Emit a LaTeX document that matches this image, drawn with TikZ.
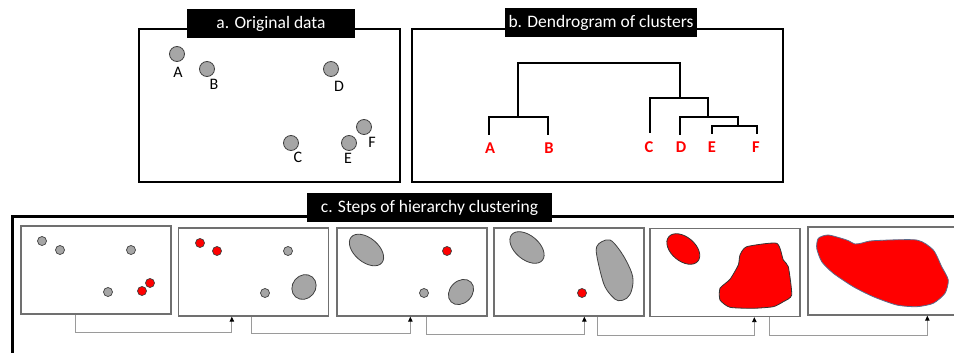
\documentclass[tikz,border=0pt]{standalone}
\usepackage{fontspec}
\setmainfont{Carlito}
\usetikzlibrary{arrows.meta,calc}
\definecolor{dotgray}{HTML}{A6A6A6}
\definecolor{rimgray}{HTML}{404040}
\definecolor{framegray}{HTML}{707070}
\definecolor{linkgray}{HTML}{9A9A9A}
\definecolor{blobrim}{HTML}{5A6A8A}
\begin{document}
\begin{tikzpicture}[x=1pt,y=-1pt,
  panel/.style={draw=black,line width=2pt},
  title/.style={fill=black,text=white,inner sep=0pt,minimum height=29pt,
    font=\fontsize{17.5}{20}\selectfont},
  bigdot/.style={circle,draw=rimgray,fill=dotgray,line width=0.8pt,
    minimum size=15pt,inner sep=0pt},
  letter/.style={font=\fontsize{16}{18}\selectfont,inner sep=0pt},
  redletter/.style={font=\fontsize{16.5}{18}\selectfont\bfseries,text=red,inner sep=0pt},
  tree/.style={line width=2.6pt,line cap=rect},
  stepbox/.style={draw=framegray,line width=1.3pt,inner sep=0pt,
    minimum width=150pt,minimum height=88pt},
  gdot/.style={circle,draw=rimgray,fill=dotgray,line width=0.7pt,minimum size=9pt,inner sep=0pt},
  rdot/.style={circle,draw=rimgray,fill=red,line width=0.7pt,minimum size=9pt,inner sep=0pt},
  gblob/.style={draw=rimgray,fill=dotgray,line width=0.8pt},
  rblob/.style={draw=black!80,fill=red,line width=0.8pt},
  link/.style={draw=linkgray,line width=0.9pt,
    -{Triangle[length=5pt,width=4.5pt,fill=black,color=black]}}
]
\useasboundingbox (0,0) rectangle (954,353);

% ---------- a. Original data ----------
\draw[panel] (139,29) rectangle (400,182);
\node[title,minimum width=168pt] (ta) at (271,23.5) {a. Original data};
\node[bigdot] (pA) at (177,54) {};
\node[bigdot] (pB) at (207,69) {};
\node[bigdot] (pD) at (331,69) {};
\node[bigdot] (pC) at (291,143) {};
\node[bigdot] (pE) at (349,143) {};
\node[bigdot] (pF) at (364,127) {};
\node[letter] (lA) at (178,72) {A};
\node[letter] (lB) at (214,84) {B};
\node[letter] (lD) at (339,86) {D};
\node[letter] (lC) at (298,157) {C};
\node[letter] (lE) at (348,158) {E};
\node[letter] (lF) at (372,142) {F};

% ---------- b. Dendrogram of clusters ----------
\draw[panel] (412,29) rectangle (783,182);
\node[title,minimum width=192pt] (tb) at (601,22.5) {b. Dendrogram of clusters};
\node[redletter] (dA) at (490,148) {A};
\node[redletter] (dB) at (549,148) {B};
\node[redletter] (dC) at (649,147) {C};
\node[redletter] (dD) at (681,147) {D};
\node[redletter] (dE) at (712,147) {E};
\node[redletter] (dF) at (756,147) {F};
% merge heights: EF, D+EF, C+DEF, AB, root
\draw[tree] (489,134) -- (489,117) -- (548,117) -- (548,134);
\draw[tree] (518,117) -- (518,63) -- (680,63) -- (680,98);
\draw[tree] (650,132) -- (650,98) -- (708,98) -- (708,117);
\draw[tree] (680,134) -- (680,117) -- (738,117) -- (738,126);
\draw[tree] (712,133) -- (712,126) -- (757,126) -- (757,133);

% ---------- c. Steps of hierarchy clustering ----------
\draw[black,line width=3pt] (12,360) -- (12,216) -- (960,216);
\node[title,minimum width=245pt] (tc) at (429.5,207.5) {c. Steps of hierarchy clustering};

\node[stepbox] (s1) at (96,270) {};
\node[stepbox] (s2) at (253.5,272) {};
\node[stepbox] (s3) at (412,272) {};
\node[stepbox] (s4) at (569,272) {};
\node[stepbox] (s5) at (725,272.5) {};
\node[stepbox] (s6) at (883,271) {};

% step 1
\node[gdot] (a1) at (42,241) {};
\node[gdot] (b1) at (60,250) {};
\node[gdot] (d1) at (131,250) {};
\node[gdot] (c1) at (108,292) {};
\node[rdot] (e1) at (142,291) {};
\node[rdot] (f1) at (150,283) {};
% step 2
\node[rdot] (a2) at (200,243) {};
\node[rdot] (b2) at (217,251) {};
\node[gdot] (d2) at (288,251) {};
\node[gdot] (c2) at (265,293) {};
\draw[gblob,shift={(304,287)},rotate=50] (0,0) ellipse [x radius=13,y radius=11.5];
% step 3
\draw[gblob,shift={(366.5,250)},rotate=-40] (0,0) ellipse [x radius=20,y radius=12];
\node[rdot] (d3) at (447,251) {};
\node[gdot] (c3) at (424,293) {};
\draw[gblob,shift={(461,292)},rotate=45] (0,0) ellipse [x radius=14,y radius=11];
% step 4
\draw[gblob,shift={(527,247.5)},rotate=-40] (0,0) ellipse [x radius=20,y radius=12];
\node[rdot] (c4) at (582,293) {};
\draw[gblob] plot[smooth cycle,tension=0.6] coordinates {
  (601.7,241.7) (610,240) (618.3,248.3) (626.7,261.7) (632.7,276.7)
  (631.7,290) (626.7,298.3) (618.3,300.7) (611.7,296) (605,286.7)
  (600.7,273.3) (596.7,255) (596.7,246.7)};
% step 5
\draw[rblob,shift={(683.3,249)},rotate=-40] (0,0) ellipse [x radius=19,y radius=12];
\draw[rblob] plot[smooth cycle,tension=0.35] coordinates {
  (746.7,246.7) (776.7,243.3) (783.3,260) (788.3,266.7) (791.7,295)
  (783.3,301.7) (773.3,306.7) (753.3,308.3) (730,307.3) (720,300)
  (720,288.3) (730,279.3) (738.3,265) (740,255)};
% step 6
\draw[draw=blobrim,fill=red,line width=0.8pt] plot[smooth cycle,tension=0.4] coordinates {
  (818.3,238.3) (828.3,235) (846.7,240) (855,244) (862,243) (873.3,240.7)
  (916.7,240) (933.3,250) (941.7,266.7) (948.3,280) (945,293.3)
  (933.3,303.3) (916.7,306.7) (896.7,305) (873.3,296.7) (853.3,286.7)
  (833.3,273.3) (821.7,261.7) (816.7,248.3)};

% links between steps
\draw[link] ($(s1.south west)+(55,0)$) -- ++(0,18) -| ($(s2.south west)+(54,0)$);
\draw[link] ($(s2.south west)+(74,0)$) -- ++(0,17) -| ($(s3.south west)+(74,0)$);
\draw[link] ($(s3.south west)+(90,0)$) -- ++(0,18) -| ($(s4.south west)+(91,0)$);
\draw[link] ($(s4.south west)+(104,0)$) -- ++(0,19) -| ($(s5.south west)+(105,0)$);
\draw[link] ($(s5.south west)+(120,0)$) -- ++(0,18) -| ($(s6.south west)+(120,0)$);
\end{tikzpicture}
\end{document}
